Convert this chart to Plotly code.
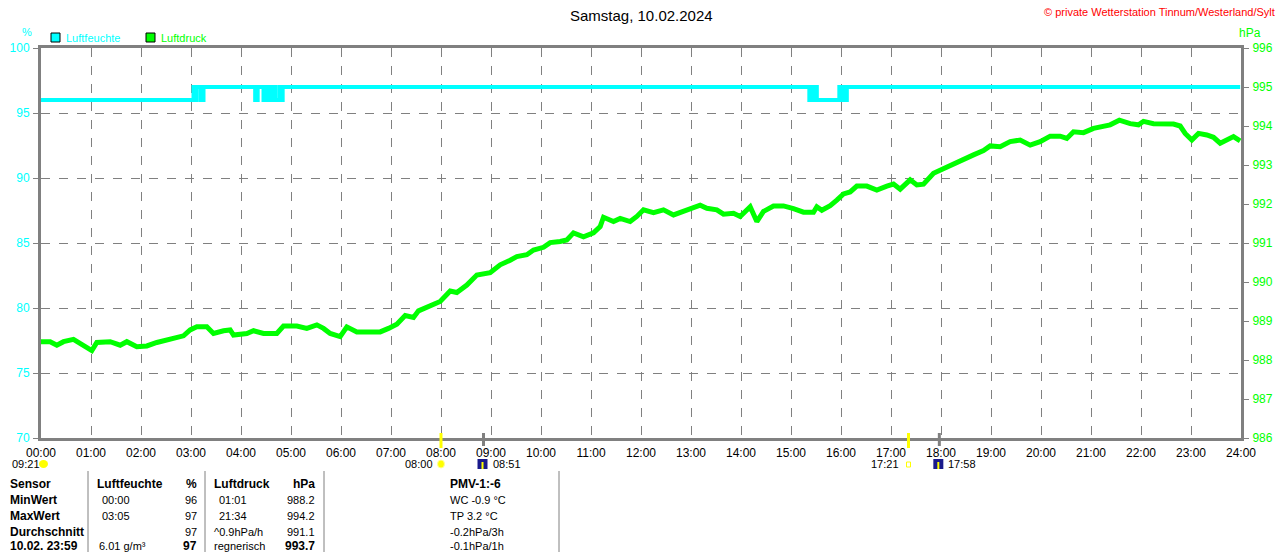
""" Tagesgrafik Luftfeuchte / Luftdruck, Wetterstation Tinnum. """

import plotly.graph_objects as go

W, H = 1280, 552
# plot area in pixels
L, R, T, B = 41, 1241, 48, 438

TITLE = "Samstag, 10.02.2024"
COPYRIGHT = "© private Wetterstation Tinnum/Westerland/Sylt"

hour_labels = ["%02d:00" % h for h in range(25)]

# Luftfeuchte (%), stepped values
hum_time = ["00:00", "03:02", "03:03", "03:04", "03:05", "03:06", "03:07",
            "03:11", "03:12", "03:14", "03:15", "04:17", "04:20", "04:27",
            "04:29", "04:32", "04:34", "04:37", "04:39", "04:41", "04:46",
            "04:48", "04:50", "15:22", "15:23", "15:25", "15:26", "15:28",
            "15:29", "15:31", "15:32", "15:58", "16:00", "16:01", "16:03",
            "16:04", "16:06", "16:07", "16:09", "23:59"]
hum_vals = [96, 96, 97, 96, 97, 96, 97,
            97, 96, 96, 97, 96, 97, 96,
            97, 96, 97, 96, 97, 96, 97,
            96, 97, 96, 97, 96, 97, 96,
            97, 96, 96, 97, 96, 97, 96,
            97, 96, 97, 97, 97]

# Luftdruck (hPa)
pres_time = ["00:00", "00:11", "00:19", "00:27", "00:39", "00:51", "01:01",
             "01:07", "01:23", "01:35", "01:43", "01:55", "02:07", "02:19",
             "02:35", "02:51", "02:59", "03:07", "03:19", "03:27", "03:39",
             "03:47", "03:51", "04:07", "04:15", "04:27", "04:43", "04:51",
             "05:07", "05:19", "05:31", "05:39", "05:47", "05:59", "06:07",
             "06:19", "06:27", "06:47", "06:57", "07:07", "07:17", "07:27",
             "07:33", "07:47", "07:59", "08:11", "08:19", "08:31", "08:43",
             "08:59", "09:11", "09:23", "09:31", "09:43", "09:51", "10:03",
             "10:11", "10:23", "10:31", "10:39", "10:51", "11:03", "11:11",
             "11:15", "11:27", "11:35", "11:47", "11:55", "12:03", "12:15",
             "12:27", "12:39", "12:51", "13:03", "13:11", "13:19", "13:31",
             "13:39", "13:51", "13:59", "14:11", "14:19", "14:27", "14:39",
             "14:51", "15:03", "15:15", "15:27", "15:31", "15:37", "15:47",
             "15:55", "16:03", "16:11", "16:19", "16:31", "16:43", "16:55",
             "17:03", "17:11", "17:23", "17:31", "17:39", "17:51", "18:03",
             "18:15", "18:27", "18:39", "18:51", "18:59", "19:11", "19:23",
             "19:35", "19:47", "19:59", "20:11", "20:23", "20:31", "20:39",
             "20:51", "21:03", "21:15", "21:23", "21:34", "21:47", "21:57",
             "22:03", "22:15", "22:27", "22:39", "22:47", "22:53", "23:01",
             "23:09", "23:19", "23:27", "23:35", "23:43", "23:51", "23:59"]
pres_vals = [988.47, 988.47, 988.38, 988.47, 988.53, 988.38, 988.24,
             988.45, 988.47, 988.38, 988.47, 988.34, 988.36, 988.45,
             988.55, 988.62, 988.77, 988.85, 988.85, 988.68, 988.75,
             988.77, 988.64, 988.68, 988.75, 988.68, 988.68, 988.87,
             988.87, 988.81, 988.90, 988.81, 988.68, 988.60, 988.85,
             988.72, 988.72, 988.72, 988.81, 988.92, 989.14, 989.09,
             989.26, 989.39, 989.50, 989.77, 989.73, 989.92, 990.18,
             990.24, 990.44, 990.56, 990.65, 990.70, 990.82, 990.89,
             991.01, 991.04, 991.08, 991.26, 991.16, 991.26, 991.42,
             991.66, 991.55, 991.63, 991.55, 991.68, 991.85, 991.78,
             991.85, 991.72, 991.81, 991.89, 991.97, 991.89, 991.85,
             991.74, 991.76, 991.68, 991.93, 991.55, 991.81, 991.95,
             991.95, 991.88, 991.79, 991.79, 991.93, 991.84, 991.96,
             992.10, 992.26, 992.31, 992.46, 992.46, 992.36, 992.46,
             992.51, 992.38, 992.62, 992.49, 992.51, 992.79, 992.91,
             993.03, 993.17, 993.26, 993.37, 993.49, 993.47, 993.60,
             993.64, 993.51, 993.60, 993.74, 993.74, 993.68, 993.85,
             993.83, 993.94, 994.00, 994.03, 994.15, 994.06, 994.03,
             994.12, 994.06, 994.05, 994.05, 994.00, 993.81, 993.64,
             993.81, 993.77, 993.71, 993.56, 993.66, 993.73, 993.62]

# Sonne / Mond Zeiten unter der Achse
sun_ticks = ["08:00", "17:21"]   # yellow marks
twilight_ticks = ["08:51", "17:58"]  # gray marks

# Tabelle unten
table_rows = ["Sensor", "MinWert", "MaxWert", "Durchschnitt", "10.02. 23:59"]
hum_col = ["Luftfeuchte", "00:00", "03:05", "", "6.01 g/m³"]
hum_unit_col = ["%", "96", "97", "97", "97"]
pres_col = ["Luftdruck", "01:01", "21:34", "^0.9hPa/h", "regnerisch"]
pres_unit_col = ["hPa", "988.2", "994.2", "991.1", "993.7"]
pmv_col = ["PMV-1:-6", "WC -0.9 °C", "TP 3.2 °C", "-0.2hPa/3h", "-0.1hPa/1h"]

CYAN = "#00ffff"
GREEN = "#00ff00"
GRAY = "#808080"
FONT = "Liberation Sans"


def to_hours(t):
    h, m = t.split(":")
    return int(h) + int(m) / 60.0


def px(x):
    return (x - L) / (R - L)


def py(y):
    return (B - y) / (B - T)


fig = go.Figure()

fig.add_trace(
    go.Scatter(
        x=[to_hours(t) for t in hum_time],
        y=hum_vals,
        mode="lines",
        line={"color": CYAN, "width": 4, "shape": "hv"},
        name="Luftfeuchte",
        yaxis="y",
    )
)
fig.add_trace(
    go.Scatter(
        x=[to_hours(t) for t in pres_time],
        y=pres_vals,
        mode="lines",
        line={"color": GREEN, "width": 5},
        name="Luftdruck",
        yaxis="y2",
    )
)

fig.update_layout(
    width=W,
    height=H,
    margin={"l": L, "r": W - R, "t": T, "b": H - B},
    paper_bgcolor="white",
    plot_bgcolor="white",
    showlegend=False,
    font={"family": FONT, "size": 12, "color": "black"},
    xaxis={
        "range": [0, 24],
        "tickvals": list(range(25)),
        "ticktext": hour_labels,
        "showgrid": True,
        "gridcolor": GRAY,
        "griddash": "dash",
        "gridwidth": 1,
        "showline": True,
        "linecolor": GRAY,
        "linewidth": 3,
        "mirror": True,
        "zeroline": False,
        "ticks": "",
        "automargin": False,
        "tickfont": {"size": 12, "color": "black"},
        "ticklabelstandoff": 2,
    },
    yaxis={
        "range": [70, 100],
        "dtick": 5,
        "showgrid": True,
        "gridcolor": GRAY,
        "griddash": "dash",
        "gridwidth": 1,
        "showline": True,
        "linecolor": GRAY,
        "linewidth": 3,
        "zeroline": False,
        "ticks": "outside",
        "ticklen": 5,
        "tickcolor": GRAY,
        "automargin": False,
        "tickfont": {"size": 12, "color": CYAN},
        "ticklabelstandoff": 1,
    },
    yaxis2={
        "range": [986, 996],
        "dtick": 1,
        "overlaying": "y",
        "side": "right",
        "showgrid": False,
        "showline": True,
        "linecolor": GRAY,
        "linewidth": 3,
        "zeroline": False,
        "ticks": "outside",
        "ticklen": 5,
        "tickcolor": GRAY,
        "automargin": False,
        "tickfont": {"size": 12, "color": GREEN},
        "ticklabelstandoff": 1,
    },
)

annotations = []
shapes = []


def ann(text, x, y, color="black", anchor="left", size=12, bold=False):
    if bold:
        text = "<b>%s</b>" % text
    annotations.append(
        {
            "text": text,
            "x": px(x),
            "y": py(y),
            "xref": "paper",
            "yref": "paper",
            "xanchor": anchor,
            "yanchor": "middle",
            "showarrow": False,
            "font": {"family": FONT, "size": size, "color": color},
        }
    )


# titles
ann(TITLE, 641, 15, size=15, anchor="center")
ann(COPYRIGHT, 1277, 12, color="red", anchor="right", size=11)
ann("%", 27, 32, color=CYAN, anchor="center", size=11)
ann("hPa", 1250, 33, color=GREEN, anchor="center", size=12)

# legend boxes
for x0, color, label in [(51, CYAN, "Luftfeuchte"), (146, GREEN, "Luftdruck")]:
    shapes.append(
        {
            "type": "rect", "xref": "paper", "yref": "paper",
            "x0": px(x0), "x1": px(x0 + 9), "y0": py(42), "y1": py(33),
            "fillcolor": color, "line": {"color": "black", "width": 1},
        }
    )
    ann(label, x0 + 13, 38, color=color, size=11)

# sunrise / sunset marks on the time axis
for t in sun_ticks:
    shapes.append(
        {
            "type": "line", "xref": "x", "yref": "paper",
            "x0": to_hours(t), "x1": to_hours(t), "y0": py(433), "y1": py(448),
            "line": {"color": "#ffff00", "width": 3},
        }
    )
for t in twilight_ticks:
    shapes.append(
        {
            "type": "line", "xref": "x", "yref": "paper",
            "x0": to_hours(t), "x1": to_hours(t), "y0": py(433), "y1": py(446),
            "line": {"color": GRAY, "width": 3},
        }
    )

# event labels and small icons below the axis
ann("09:21", 10, 464, size=11)
shapes.append(
    {
        "type": "circle", "xref": "paper", "yref": "paper",
        "x0": px(39), "x1": px(48), "y0": py(468), "y1": py(460),
        "fillcolor": "#ffff00", "line": {"color": "#ffff00", "width": 0},
    }
)
ann(sun_ticks[0], 435, 464, anchor="right", size=11)
shapes.append(
    {
        "type": "circle", "xref": "x", "yref": "paper",
        "x0": to_hours(sun_ticks[0]) - 0.07, "x1": to_hours(sun_ticks[0]) + 0.07,
        "y0": py(468), "y1": py(460),
        "fillcolor": "#ffff00", "line": {"color": "#ffff99", "width": 1},
    }
)
ann(sun_ticks[1], 901, 464, anchor="right", size=11)
shapes.append(
    {
        "type": "rect", "xref": "x", "yref": "paper",
        "x0": to_hours(sun_ticks[1]) - 0.04, "x1": to_hours(sun_ticks[1]) + 0.04,
        "y0": py(467), "y1": py(462),
        "fillcolor": "white", "line": {"color": "#ffff00", "width": 1},
    }
)
for t in twilight_ticks:
    xc = to_hours(t)
    shapes.append(
        {
            "type": "rect", "xref": "x", "yref": "paper",
            "x0": xc - 0.12, "x1": xc + 0.08, "y0": py(469), "y1": py(459),
            "fillcolor": "#1a1a8c", "line": {"width": 0},
        }
    )
    shapes.append(
        {
            "type": "rect", "xref": "x", "yref": "paper",
            "x0": xc - 0.04, "x1": xc + 0.0, "y0": py(469), "y1": py(462),
            "fillcolor": "#ffff00", "line": {"width": 0},
        }
    )
    ann(t, L + xc * 50 + 7, 464, anchor="left", size=11)

# table separators
for x in [88, 205, 324, 559]:
    shapes.append(
        {
            "type": "line", "xref": "paper", "yref": "paper",
            "x0": px(x), "x1": px(x), "y0": py(471), "y1": py(552),
            "line": {"color": GRAY, "width": 1},
        }
    )

row_y = [484, 500, 516, 532, 546]
for i, yy in enumerate(row_y):
    ann(table_rows[i], 8, yy, bold=True, size=12)
    if i == 0:
        ann(hum_col[i], 95, yy, bold=True, size=12)
        ann(pres_col[i], 212, yy, bold=True, size=12)
        ann(pmv_col[i], 448, yy, bold=True, size=12)
    else:
        ann(hum_col[i], 97 if i == 4 else 100, yy, size=11)
        ann(pres_col[i], 212 if i in (3, 4) else 217, yy, size=11)
        ann(pmv_col[i], 448, yy, size=11)
    big = i in (0, 4)
    ann(hum_unit_col[i], 199, yy, anchor="right", bold=big, size=12 if big else 11)
    ann(pres_unit_col[i], 317, yy, anchor="right", bold=big, size=12 if big else 11)

fig.update_layout(annotations=annotations, shapes=shapes)

# the page is exactly as large as the figure, so drop the default body margin
fig.write_html(
    "out.html",
    config={"displayModeBar": False},
    post_script="document.body.style.margin='0';document.body.style.overflow='hidden';",
)
